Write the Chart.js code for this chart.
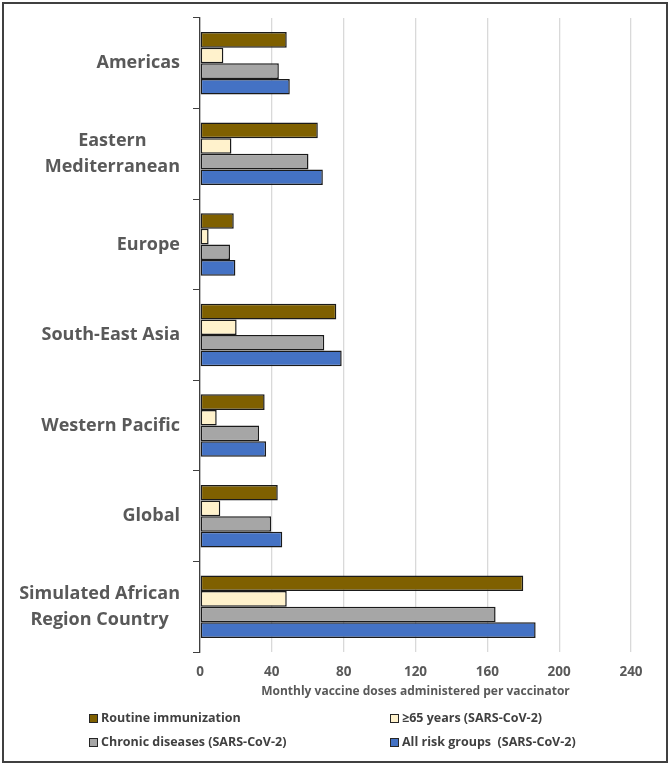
<!DOCTYPE html>
<html>
<head>
<meta charset="utf-8">
<script src="https://cdn.jsdelivr.net/npm/chart.js@4.4.1/dist/chart.umd.min.js"></script>
<style>
    body { margin: 0; background: #fff; font-family: "Open Sans", sans-serif; }
    #wrap { position: relative; width: 670px; height: 768px; }
    #frame { position: absolute; left: 2px; top: 2px; width: 666px; height: 761px; box-sizing: border-box; border: 2px solid #404040; pointer-events: none; }
    .lg { position: absolute; font-weight: bold; font-size: 12.5px; color: #404040; white-space: pre; line-height: 16px; }
    .lg i { display: inline-block; width: 7px; height: 7px; border: 1px solid #262626; margin-right: 3px; vertical-align: -1px; }
</style>
</head>
<body>
<div id="wrap">
    <canvas id="regionChart" width="670" height="768"></canvas>
    <div id="legend"></div>
    <div id="frame"></div>
</div>
<script>
const regions = [
    ['Americas'],
    ['Eastern', 'Mediterranean'],
    ['Europe'],
    ['South-East Asia'],
    ['Western Pacific'],
    ['Global'],
    ['Simulated African', 'Region Country']
];
const routine = [48.3, 65.6, 18.8, 75.9, 36.0, 43.3, 180.0];
const over65 = [13.0, 17.5, 4.8, 20.4, 9.3, 11.3, 48.3];
const chronic = [43.9, 60.4, 16.7, 69.2, 32.9, 39.6, 164.6];
const allRisk = [50.0, 68.4, 19.7, 78.9, 36.8, 45.8, 186.9];
const xTicks = [0, 40, 80, 120, 160, 200, 240];

const seriesNames = ['Routine immunization', '\u226565 years (SARS-CoV-2)', 'Chronic diseases (SARS-CoV-2)', 'All risk groups  (SARS-CoV-2)'];
const seriesColors = ['#7f6000', '#fff2cc', '#a6a6a6', '#4472c4'];
const seriesData = [routine, over65, chronic, allRisk];

// region names drawn by hand: block right-aligned, lines centred on each other
const regionLabels = {
    id: 'regionLabels',
    afterDraw(chart) {
        const ctx = chart.ctx;
        const yScale = chart.scales.y;
        ctx.save();
        ctx.font = 'bold 18px "Open Sans"';
        ctx.fillStyle = '#595959';
        ctx.textAlign = 'center';
        ctx.textBaseline = 'middle';
        regions.forEach((lines, i) => {
            const y = yScale.getPixelForValue(i);
            const w = Math.max(...lines.map(l => ctx.measureText(l).width));
            const cx = 180 - w / 2;
            lines.forEach((l, j) => {
                ctx.fillText(l, cx, y + (j - (lines.length - 1) / 2) * 26);
            });
        });
        ctx.restore();
    }
};

const ctx = document.getElementById('regionChart').getContext('2d');
const chart = new Chart(ctx, {
    type: 'bar',
    data: {
        labels: regions.map(r => r.join(' ')),
        datasets: seriesData.map((d, i) => ({
            label: seriesNames[i],
            data: d,
            backgroundColor: seriesColors[i],
            borderColor: '#1a1a1a',
            borderWidth: 1.5,
            borderSkipped: false,
            barPercentage: 1,
            categoryPercentage: 0.69
        }))
    },
    options: {
        indexAxis: 'y',
        responsive: false,
        animation: false,
        layout: { padding: { left: 0, top: 18, right: 39, bottom: 68 } },
        plugins: {
            legend: { display: false },
            tooltip: { enabled: false }
        },
        scales: {
            x: {
                min: 0,
                max: 240,
                afterBuildTicks: s => { s.ticks = xTicks.map(v => ({ value: v })); },
                afterFit: s => { s.height = 48; },
                ticks: {
                    color: '#595959',
                    padding: 12,
                    font: { family: 'Open Sans', weight: 'bold', size: 13.5 }
                },
                grid: { color: '#d9d9d9', lineWidth: 1.3, drawTicks: false },
                border: { display: false },
                title: {
                    display: true,
                    text: 'Monthly vaccine doses administered per vaccinator',
                    color: '#595959',
                    padding: { top: 0, bottom: 1 },
                    font: { family: 'Open Sans', weight: 'bold', size: 12 }
                }
            },
            y: {
                afterFit: s => { s.width = 200; },
                ticks: { display: false },
                grid: {
                    drawOnChartArea: false,
                    drawTicks: true,
                    tickLength: 7,
                    color: '#404040',
                    offset: true
                },
                border: { display: true, color: '#404040', width: 1.3 }
            }
        }
    },
    plugins: [regionLabels]
});

// 2x2 legend under the axis
const legendPos = [[89, 710], [390, 710], [89, 734], [390, 734]];
const legendEl = document.getElementById('legend');
seriesNames.forEach((name, i) => {
    const div = document.createElement('div');
    div.className = 'lg';
    div.style.left = legendPos[i][0] + 'px';
    div.style.top = legendPos[i][1] + 'px';
    const box = document.createElement('i');
    box.style.background = seriesColors[i];
    div.appendChild(box);
    div.appendChild(document.createTextNode(name));
    legendEl.appendChild(div);
});
</script>
</body>
</html>
